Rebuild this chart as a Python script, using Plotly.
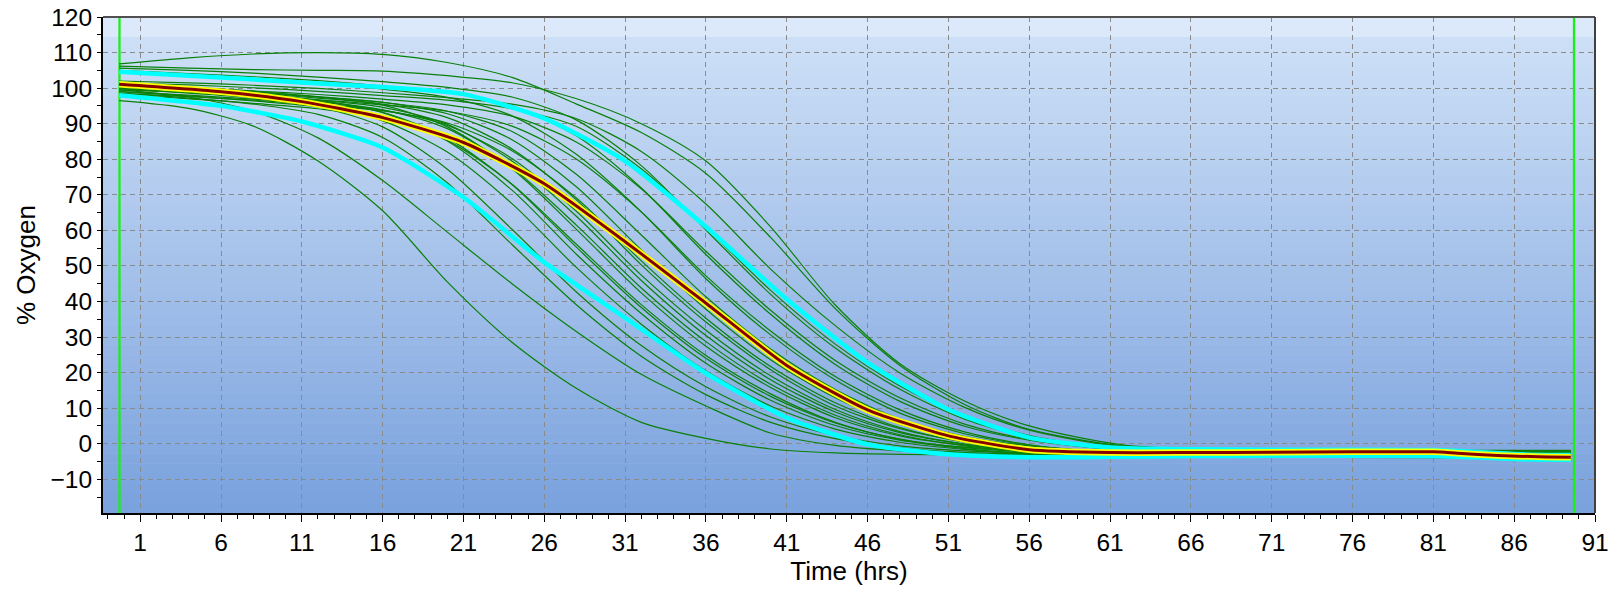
import plotly.graph_objects as go

# ---------------- data ----------------
TIME = [-0.3, 4, 8, 12, 16, 20, 24, 28, 32, 36, 40, 44, 48, 52, 56, 62, 70, 80, 89.5]

w01 = [96.5, 94.3, 89.3, 79.5, 65.5, 45.5, 28.5, 15.5, 6.0, 1.5, -1.5, -2.6, -3.0, -3.1, -3.2, -3.2, -3.3, -3.3, -3.4]
w02 = [99.5, 97.5, 93.5, 86.0, 74.0, 59.5, 45.0, 31.5, 19.5, 10.6, 3.0, -0.5, -2.0, -2.6, -2.8, -3.0, -3.0, -3.1, -3.2]
w03 = [98.5, 97.2, 95.5, 92.6, 86.1, 73.4, 56.0, 39.0, 24.6, 13.8, 6.0, 1.4, -1.2, -2.5, -3.1, -3.4, -3.5, -3.6, -3.6]
w04 = [100.0, 98.6, 97.2, 94.8, 89.1, 77.2, 60.3, 42.6, 27.6, 16.0, 7.5, 2.3, -0.6, -2.0, -2.6, -2.8, -2.8, -2.9, -2.9]
w05 = [99.0, 97.8, 96.4, 94.7, 90.8, 82.0, 67.5, 49.5, 33.6, 20.4, 10.6, 4.1, 0.4, -1.6, -2.7, -3.2, -3.3, -3.3, -3.4]
w06 = [101.0, 99.8, 98.4, 96.6, 93.1, 85.1, 71.3, 53.2, 36.6, 22.6, 12.2, 5.1, 1.0, -1.0, -1.9, -2.3, -2.4, -2.5, -2.5]
w07 = [100.5, 99.3, 98.0, 96.3, 93.2, 86.0, 72.9, 55.2, 38.3, 24.0, 13.3, 5.8, 1.3, -1.1, -2.3, -2.9, -3.0, -3.0, -3.1]
w08 = [98.0, 97.0, 95.7, 94.2, 91.6, 85.3, 73.0, 56.0, 39.1, 24.8, 14.0, 6.0, 1.2, -1.4, -2.8, -3.5, -3.7, -3.8, -3.8]
w09 = [101.5, 100.3, 99.1, 97.5, 95.2, 89.1, 77.3, 60.2, 42.4, 27.4, 15.8, 7.3, 2.2, -0.4, -1.6, -2.1, -2.2, -2.2, -2.3]
w10 = [99.8, 98.8, 97.7, 96.2, 93.9, 88.6, 77.6, 61.4, 43.8, 28.7, 16.7, 8.0, 2.5, -0.6, -2.3, -3.2, -3.3, -3.4, -3.4]
w11 = [100.2, 99.2, 98.0, 96.6, 94.6, 89.8, 79.5, 63.9, 45.9, 30.4, 18.0, 8.9, 3.1, -0.1, -1.8, -2.7, -2.8, -2.9, -2.9]
w12 = [99.0, 98.0, 96.9, 95.5, 93.8, 89.5, 80.2, 65.3, 47.4, 31.9, 19.1, 9.6, 3.4, -0.2, -2.2, -3.3, -3.5, -3.6, -3.6]
w13 = [100.8, 99.7, 98.6, 97.2, 95.5, 91.7, 82.9, 68.5, 50.3, 34.2, 20.8, 10.6, 4.2, 0.6, -1.3, -2.4, -2.5, -2.6, -2.6]
w14 = [98.5, 97.6, 96.6, 95.3, 93.6, 90.2, 82.4, 69.0, 51.4, 35.3, 21.7, 11.5, 4.5, 0.4, -1.9, -3.4, -3.8, -3.9, -4.0]
w15 = [101.0, 100.1, 99.0, 97.6, 96.0, 92.8, 85.5, 72.2, 54.5, 37.8, 23.6, 12.9, 5.5, 1.2, -1.1, -2.8, -3.0, -3.1, -3.1]
w16 = [100.5, 99.6, 98.6, 97.5, 96.0, 93.5, 87.8, 75.7, 58.7, 41.3, 26.6, 15.2, 6.9, 2.0, -0.6, -2.4, -2.6, -2.7, -2.7]
w17 = [104.5, 103.5, 102.5, 101.3, 99.7, 97.4, 92.2, 81.3, 65.2, 46.4, 30.6, 17.9, 8.6, 2.8, -0.4, -2.6, -3.1, -3.2, -3.3]
w18 = [99.5, 98.8, 97.8, 96.7, 95.3, 93.5, 89.3, 80.0, 65.2, 47.2, 31.7, 18.9, 9.5, 3.3, -0.3, -2.8, -3.3, -3.4, -3.5]
w19 = [105.0, 104.1, 103.2, 102.1, 100.6, 98.9, 95.0, 86.5, 71.9, 53.2, 36.4, 22.3, 11.9, 4.9, 1.0, -1.8, -2.3, -2.4, -2.4]
w20 = [100.8, 100.1, 99.2, 98.2, 96.9, 95.3, 92.1, 84.8, 71.7, 54.1, 37.5, 23.4, 12.9, 5.5, 1.2, -1.9, -2.8, -3.0, -3.0]
w21 = [105.6, 105.0, 104.2, 103.1, 101.8, 100.2, 97.5, 91.0, 78.2, 60.1, 42.0, 26.9, 15.3, 6.9, 1.9, -1.5, -1.9, -2.0, -2.0]
w22 = [101.5, 100.9, 100.1, 99.1, 97.9, 96.6, 94.2, 89.2, 77.3, 60.7, 43.1, 28.0, 16.2, 7.6, 2.3, -1.8, -3.4, -3.6, -3.7]
w23 = [102.0, 101.5, 100.8, 99.9, 98.7, 97.3, 95.5, 91.4, 82.2, 67.4, 49.1, 33.2, 19.9, 10.2, 3.8, -1.0, -2.2, -2.4, -2.5]
w24 = [106.2, 105.6, 105.2, 105.0, 104.8, 103.5, 101.5, 97.0, 90.0, 79.5, 61.0, 39.0, 22.5, 12.0, 5.0, -0.5, -1.7, -1.9, -1.9]
w25 = [106.8, 108.5, 109.6, 110.0, 109.5, 107.2, 103.0, 95.5, 87.5, 76.0, 58.0, 38.0, 22.0, 11.0, 4.0, -0.7, -2.0, -2.2, -2.3]

BAND_TIME = [-0.3, 6, 11, 16, 21, 26, 31, 36, 41, 46, 51, 56, 61, 66, 71, 76, 81, 84, 86.5, 89.5]
UPPER_O2 = [104.6, 103.0, 101.6, 100.3, 98.3, 91.5, 79.5, 61.0, 40.6, 22.8, 9.6, 1.7, -1.1, -1.6, -1.7, -1.7, -1.8, -2.4, -3.0, -3.2]
LOWER_O2 = [98.0, 95.0, 90.6, 83.3, 69.3, 51.0, 35.4, 19.8, 7.3, -0.2, -3.0, -3.8, -3.7, -3.5, -3.4, -3.4, -3.5, -3.9, -4.4, -4.5]

MEAN_TIME = [-0.3, 6, 11, 16, 21, 26, 31, 36, 41, 46, 51, 56, 61, 66, 71, 76, 81, 82.5, 85, 87.5, 89.5]
MEAN_O2 = [101.1, 99.0, 96.2, 91.7, 84.7, 73.1, 56.8, 39.5, 22.0, 9.5, 2.2, -1.7, -2.5, -2.5, -2.4, -2.3, -2.3, -2.7, -3.3, -3.7, -3.8]

CURSOR_TIME = [-0.28, 89.7]

X_RANGE = [-1.3, 91]
Y_RANGE = [-19.5, 120]

# ---------------- styles ----------------
FONT = "Liberation Sans, Arial, sans-serif"
GREEN = "#0a800a"
CYAN = "#00ffff"
DARK_RED = "#850000"
YELLOW = "#ffff00"
CURSOR = "#19f019"
GRID = "#8a8a8a"

WELLS = [w01, w02, w03, w04, w05, w06, w07, w08, w09, w10, w11, w12, w13,
         w14, w15, w16, w17, w18, w19, w20, w21, w22, w23, w24, w25]

fig = go.Figure()

# background gradient (paper coordinates, below grid)
shapes = []
top_frac = 0.959
top_col = (219, 233, 251)
hi_col = (206, 224, 247)
lo_col = (121, 161, 221)
shapes.append(dict(type="rect", xref="paper", yref="paper", x0=0, x1=1, y0=top_frac, y1=1,
                   fillcolor="rgb(%d,%d,%d)" % top_col, line=dict(width=0), layer="below"))
n = 48
for i in range(n):
    y0 = top_frac * i / n
    y1 = top_frac * (i + 1) / n
    f = (i + 0.5) / n
    c = tuple(int(round(lo_col[k] + (hi_col[k] - lo_col[k]) * f)) for k in range(3))
    shapes.append(dict(type="rect", xref="paper", yref="paper", x0=0, x1=1, y0=y0, y1=y1 + 0.0005,
                       fillcolor="rgb(%d,%d,%d)" % c, line=dict(width=0), layer="below"))
# top & right frame lines
shapes.append(dict(type="line", xref="paper", yref="paper", x0=0, x1=1, y0=1, y1=1,
                   line=dict(color="#505050", width=2), layer="above"))
shapes.append(dict(type="line", xref="paper", yref="paper", x0=1, x1=1, y0=0, y1=1,
                   line=dict(color="#404040", width=2), layer="above"))

# cursor lines
for cx in CURSOR_TIME:
    fig.add_trace(go.Scatter(x=[cx, cx], y=Y_RANGE, mode="lines",
                             line=dict(color=CURSOR, width=2.3), hoverinfo="skip"))

# individual wells
for w in WELLS:
    fig.add_trace(go.Scatter(x=TIME, y=w, mode="lines",
                             line=dict(color=GREEN, width=1.2, shape="spline", smoothing=0.8)))

# mean +/- SD
for band in (UPPER_O2, LOWER_O2):
    fig.add_trace(go.Scatter(x=BAND_TIME, y=band, mode="lines",
                             line=dict(color=CYAN, width=4.5, shape="spline", smoothing=0.6)))

# mean (yellow outline + dark red core)
fig.add_trace(go.Scatter(x=MEAN_TIME, y=MEAN_O2, mode="lines",
                         line=dict(color=YELLOW, width=6.5, shape="spline", smoothing=0.6)))
fig.add_trace(go.Scatter(x=MEAN_TIME, y=MEAN_O2, mode="lines",
                         line=dict(color=DARK_RED, width=3, shape="spline", smoothing=0.6)))

axis_font = dict(family=FONT, size=24.5, color="black")
title_font = dict(family=FONT, size=26, color="black")

fig.update_layout(
    width=1619, height=589,
    margin=dict(l=103, r=24, t=17, b=76, autoexpand=False),
    paper_bgcolor="white",
    plot_bgcolor="rgb(170,196,236)",
    showlegend=False,
    shapes=shapes,
    xaxis=dict(
        range=X_RANGE, tickmode="linear", tick0=1, dtick=5,
        ticks="outside", ticklen=7, tickwidth=1, tickcolor="black",
        showgrid=True, gridcolor=GRID, gridwidth=1, griddash="5px,4px",
        zeroline=False, showline=True, linecolor="black", linewidth=2,
        tickfont=axis_font,
        minor=dict(tick0=0, dtick=1, ticks="outside", ticklen=4, tickcolor="black", showgrid=False),
        title=dict(text="Time (hrs)", font=title_font, standoff=4),
        automargin=False,
    ),
    yaxis=dict(
        range=Y_RANGE, tickmode="linear", tick0=0, dtick=10,
        ticks="outside", ticklen=4, tickwidth=1, tickcolor="black",
        showgrid=True, gridcolor=GRID, gridwidth=1, griddash="5px,4px",
        zeroline=False, showline=True, linecolor="black", linewidth=2,
        tickfont=axis_font,
        minor=dict(tick0=0, dtick=5, ticks="outside", ticklen=4, tickcolor="black", showgrid=False),
        title=dict(text="% Oxygen", font=title_font, standoff=7),
        automargin=False,
    ),
)

fig.write_html("out.html", config={"displayModeBar": False},
               post_script="document.body.style.margin='0';")
